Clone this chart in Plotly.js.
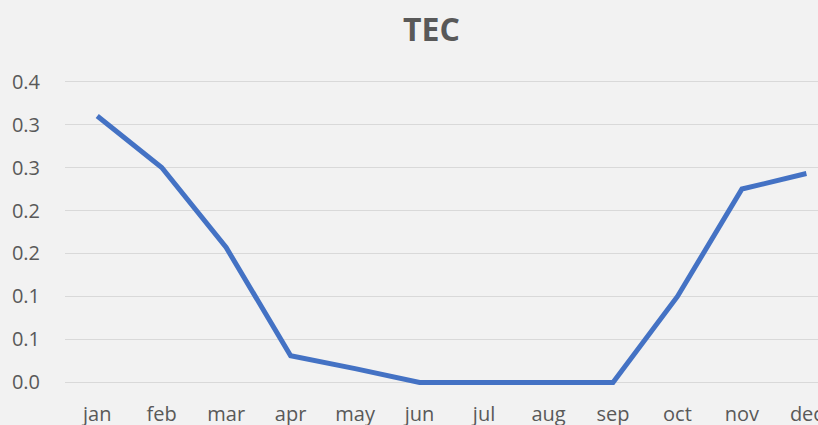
<!DOCTYPE html>
<html>
<head>
<meta charset="utf-8">
<script src="https://cdn.plot.ly/plotly-3.0.1.min.js"></script>
<style>
html,body{margin:0;padding:0;background:#f2f2f2;}
#chart{width:818px;height:425px;}
</style>
</head>
<body>
<div id="chart"></div>
<script>
const months = ["jan","feb","mar","apr","may","jun","jul","aug","sep","oct","nov","dec"];
const tecValues = [0.310, 0.250, 0.157, 0.031, 0.016, 0.0, 0.0, 0.0, 0.0, 0.100, 0.225, 0.243];
const yTickVals = [0, 0.05, 0.1, 0.15, 0.2, 0.25, 0.3, 0.35];
const yTickText = ["0.0","0.1","0.1","0.2","0.2","0.3","0.3","0.4"];

const font = "Open Sans, Lato, sans-serif";
const trace = {
  x: months,
  y: tecValues,
  type: "scatter",
  mode: "lines",
  line: {color: "#4472c4", width: 5},
  hoverinfo: "x+y"
};
const layout = {
  width: 818, height: 425,
  paper_bgcolor: "#f2f2f2",
  plot_bgcolor: "#f2f2f2",
  margin: {l: 65, r: 0, t: 79.4, b: 40.4},
  showlegend: false,
  title: {text: "<b>TEC</b>", x: 0.5275, xref: "container", xanchor: "center", y: 0.93, yref: "container", yanchor: "middle",
          font: {family: font, size: 32, color: "#595959"}},
  xaxis: {
    type: "category",
    range: [-0.5, 11.18],
    showgrid: false, zeroline: false, showline: false,
    ticks: "outside", ticklen: 11, tickcolor: "rgba(0,0,0,0)",
    tickfont: {family: font, size: 20, color: "#595959"}
  },
  yaxis: {
    range: [-0.003, 0.353],
    tickvals: yTickVals, ticktext: yTickText,
    showgrid: true, gridcolor: "#d9d9d9", gridwidth: 1,
    zeroline: false, showline: false,
    ticks: "outside", ticklen: 20, tickcolor: "rgba(0,0,0,0)",
    tickfont: {family: font, size: 20, color: "#595959"}
  }
};
Plotly.newPlot("chart", [trace], layout, {displayModeBar: false, staticPlot: true});
</script>
</body>
</html>
